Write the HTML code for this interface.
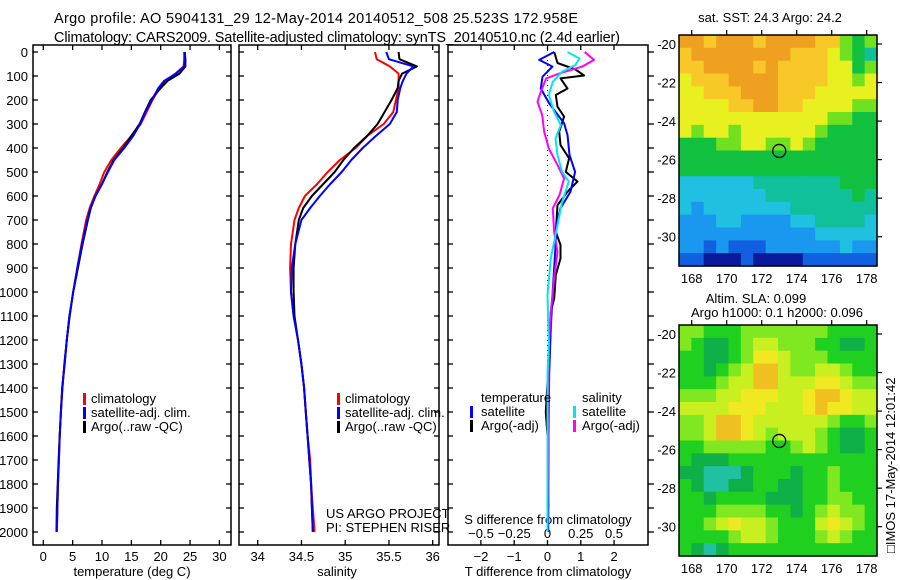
<!DOCTYPE html>
<html><head><meta charset="utf-8"><style>
html,body{margin:0;padding:0;background:#fff;}
svg{display:block;font-family:"Liberation Sans",sans-serif;}
</style></head><body>
<svg id="fig" width="900" height="580" viewBox="0 0 900 580">
<text x="54" y="23" font-size="14.5" textLength="524">Argo profile: AO 5904131_29 12-May-2014 20140512_508 25.523S 172.958E</text>
<text x="54" y="42" font-size="14.5" textLength="566">Climatology: CARS2009. Satellite-adjusted climatology: synTS_20140510.nc (2.4d earlier)</text>
<g id="p1"></g>
<g id="p2"></g>
<g id="p3"></g>
<g id="m1"></g>
<g id="m2"></g>
<text x="770" y="22" font-size="13" text-anchor="middle">sat. SST: 24.3 Argo: 24.2</text>
<text x="756" y="303" font-size="13" text-anchor="middle">Altim. SLA: 0.099</text>
<text x="777" y="317" font-size="13" text-anchor="middle">Argo h1000: 0.1 h2000: 0.096</text>
<text transform="translate(895,553) rotate(-90)" font-size="13">□IMOS 17-May-2014 12:01:42</text>
</svg>
<script>
const depths=[0,30,60,90,120,150,200,250,300,350,400,450,500,550,600,650,700,800,900,1000,1100,1200,1300,1400,1500,1600,1700,1800,1900,2000];
const tempClim=[24.0,24.0,23.9,22.5,20.8,19.8,18.6,17.6,16.6,15.0,13.2,11.6,10.4,9.6,8.7,7.9,7.3,6.5,5.8,5.1,4.45,4.0,3.6,3.25,3.0,2.8,2.65,2.5,2.4,2.3];
const tempSat=[24.1,24.1,24.0,22.6,20.6,19.6,18.5,17.4,16.5,15.3,13.8,12.1,11.0,10.0,8.9,8.0,7.5,6.6,5.8,5.1,4.45,4.0,3.6,3.25,3.0,2.8,2.65,2.5,2.4,2.3];
const tempArgo=[24.1,24.2,24.2,23.2,21.2,20.0,18.3,17.3,16.4,15.0,13.6,12.0,10.9,10.0,8.9,8.1,7.6,6.7,5.9,5.1,4.5,4.0,3.65,3.2,3.0,2.8,2.6,2.45,2.3,2.25];
const salClim=[35.34,35.36,35.51,35.61,35.61,35.61,35.58,35.55,35.44,35.25,35.12,34.94,34.80,34.68,34.54,34.47,34.42,34.38,34.37,34.38,34.41,34.46,34.50,34.53,34.55,34.57,34.60,34.61,34.63,34.65];
const salSat=[35.47,35.5,35.78,35.70,35.66,35.63,35.60,35.59,35.51,35.35,35.20,35.07,34.96,34.83,34.71,34.60,34.50,34.43,34.39,34.38,34.41,34.46,34.50,34.53,34.55,34.57,34.59,34.61,34.62,34.63];
const salArgo=[35.61,35.62,35.82,35.65,35.61,35.60,35.53,35.45,35.37,35.25,35.10,34.98,34.88,34.75,34.62,34.52,34.47,34.43,34.41,34.41,34.42,34.46,34.50,34.53,34.55,34.57,34.59,34.61,34.62,34.63];
const dTsatDepth=[0,33,61,103,152,214,297,346,429,499,582,651,721,832,1012,1151,1339,1600,2000];
const dTsat=[0.2,-0.25,0.15,-0.15,-0.2,0.05,0.5,0.6,0.66,0.83,0.69,0.39,0.27,0.23,0.15,0.1,0.05,0.03,0.02];
const dTargoDepth=[0,46,73,98,110,152,179,228,269,332,388,443,499,540,582,638,749,804,860,929,1026,1082,1300,1500,1600,1900];
const dTargo=[0.2,0.3,0.84,1.1,0.39,0.6,0.25,0.3,0.5,0.35,0.39,0.65,0.55,0.9,0.6,0.3,0.25,0.39,0.39,0.25,0.2,0.1,0.03,-0.05,0.0,0.02];
const dSsatDepth=[0,27,54,82,124,179,249,304,360,429,499,540,624,721,860,1012,1221,1339,2000];
const dSsat=[0.15,0.24,0.21,0.11,0.04,0.01,0.05,0.1,0.06,0.075,0.11,0.16,0.11,0.075,0.025,0,0.01,0,0];
const dSargoDepth=[0,33,61,89,110,165,207,263,332,402,471,527,596,651,749,832,943,1082,1221,2000];
const dSargo=[0.28,0.35,0.26,0.09,-0.01,-0.05,-0.075,-0.04,-0.025,0.01,0.075,0.125,0.09,0.04,0.05,0.075,0.05,0.025,0.01,0];
const depthTicks=[0,100,200,300,400,500,600,700,800,900,1000,1100,1200,1300,1400,1500,1600,1700,1800,1900,2000];
const tempTicks=[0,5,10,15,20,25,30];
const salTicks=[34,34.5,35,35.5,36];
const dTTicks=[-2,-1,0,1,2];
const dSTicks=[-0.5,-0.25,0,0.25,0.5];
const dSTickLabels=["\u22120.5","\u22120.25","0","0.25","0.5"];
const dTTickLabels=["\u22122","\u22121","0","1","2"];
const mapLats=[20,22,24,26,28,30];
const mapLons=[168,170,172,174,176,178];
const sstGrid=[
[9,9,8,9,9,9,8,9,9,9,9,8,8,6,5,6],
[8,9,9,9,9,9,9,9,9,8,8,8,7,6,5,4],
[8,8,9,9,9,9,8,9,8,8,8,8,7,7,5,6],
[7,8,8,8,9,9,9,9,8,8,8,8,7,7,6,7],
[7,7,8,8,8,9,9,9,8,8,8,7,7,7,7,7],
[7,7,7,7,8,8,9,9,8,8,7,7,7,7,6,6],
[7,7,7,7,7,7,7,7,7,7,7,7,6,6,5,5],
[7,6,7,7,6,7,7,7,7,7,7,6,5,5,5,5],
[5,5,5,6,6,7,7,6,6,7,6,5,5,5,5,5],
[5,5,5,5,5,5,5,5,5,5,5,5,5,5,5,5],
[5,5,5,5,5,5,5,5,5,5,5,5,5,5,5,5],
[3,3,3,3,3,3,4,4,4,4,4,4,4,5,5,5],
[3,3,3,3,3,3,3,4,4,4,4,4,4,4,5,4],
[3,2,3,3,3,3,3,3,3,4,4,4,4,4,4,4],
[2,2,2,3,3,2,2,2,2,3,3,4,4,4,4,3],
[2,2,2,2,2,2,2,2,2,2,2,3,3,3,3,3],
[2,2,1,2,1,1,1,2,2,2,2,2,2,3,2,2],
[1,1,0,0,0,1,0,0,0,0,1,1,1,1,1,1]];
const slaGrid=[
[3,3,2,2,2,3,3,3,3,3,3,3,2,2,2,2],
[3,2,1,1,2,3,4,4,3,3,3,2,2,1,1,2],
[2,2,1,1,2,3,5,5,4,3,3,3,2,2,2,2],
[2,2,1,2,3,4,6,6,4,3,3,4,4,3,2,2],
[2,2,2,3,4,4,6,6,4,4,4,5,5,4,3,3],
[3,3,3,4,4,5,5,5,4,4,5,6,6,5,4,4],
[4,4,4,4,5,5,5,4,4,4,5,6,5,5,4,4],
[3,3,4,6,6,5,4,4,4,4,4,4,3,2,2,3],
[3,3,4,6,6,5,4,3,4,4,4,3,2,1,1,2],
[2,2,3,3,3,3,3,2,2,3,4,3,2,1,1,2],
[2,1,1,1,2,2,2,2,2,2,2,2,2,2,2,2],
[1,1,0,0,0,1,2,2,2,1,2,2,3,2,2,2],
[2,1,0,0,1,1,2,2,1,1,2,2,3,2,2,2],
[2,2,1,2,2,2,2,1,1,1,2,2,3,3,2,2],
[2,2,2,3,3,3,3,2,2,1,2,3,4,3,3,2],
[2,2,3,4,5,4,4,3,2,2,2,4,5,4,3,2],
[2,2,2,2,3,4,4,3,2,2,2,3,4,3,2,2],
[2,1,0,1,2,2,2,2,2,2,2,2,2,2,2,2]];
const argoLon=173.0, argoLat=25.55;

const NS="http://www.w3.org/2000/svg";
function mk(tag,attrs,parent){const e=document.createElementNS(NS,tag);for(const k in attrs)e.setAttribute(k,attrs[k]);parent.appendChild(e);return e;}
const yD=d=>52+0.24*d;
const TOP=45,BOT=545;

function frame(g,x0,x1,name){
  const r=mk('rect',{x:x0,y:TOP,width:x1-x0,height:BOT-TOP,fill:'none',stroke:'#000','stroke-width':1.5},g);
  
  
}
function depthTicksOn(g,x0,x1,labels,outRight){
  depthTicks.forEach(d=>{
    const y=yD(d);
    const t=mk('line',{x1:x0,x2:x0+5,y1:y,y2:y,stroke:'#000','stroke-width':1.3},g);
    
    
    const t2=outRight?mk('line',{x1:x1,x2:x1+6,y1:y,y2:y,stroke:'#000','stroke-width':1.3},g):mk('line',{x1:x1-5,x2:x1,y1:y,y2:y,stroke:'#000','stroke-width':1.3},g);
    
    
    if(labels){const l=mk('text',{x:28,y:y+5,'font-size':13,'text-anchor':'end'},g);l.textContent=String(d);
      
      }
  });
}
function poly(g,xs,ds,fx,color,name,w){
  const pts=xs.map((v,i)=>fx(v).toFixed(1)+','+yD(ds[i]).toFixed(1)).join(' ');
  const p=mk('polyline',{points:pts,fill:'none',stroke:color,'stroke-width':w||2,'stroke-linejoin':'round'},g);
  
  
}
function xTicks(g,vals,labs,fx,ly,name){
  vals.forEach((v,i)=>{const x=fx(v);
    const a=mk('line',{x1:x,x2:x,y1:TOP,y2:TOP+5,stroke:'#000','stroke-width':1.3},g);
    
    
    const b=mk('line',{x1:x,x2:x,y1:BOT-5,y2:BOT,stroke:'#000','stroke-width':1.3},g);
    
    
    const l=mk('text',{x:x,y:ly,'font-size':13,'text-anchor':'middle'},g);l.textContent=labs[i];
    
    
  });
}
function txt(g,x,y,s,name,anchor,size){const t=mk('text',{x:x,y:y,'font-size':size||13,'text-anchor':anchor||'start'},g);t.textContent=s;
  
  return t;}
function legBar(g,x,y,c,name){const r=mk('rect',{x:x,y:y-11,width:3,height:12,fill:c},g);
  
  }

// Panel 1 temperature
const p1=document.getElementById('p1');
const fT=v=>43.3+v*5.87;
frame(p1,33,231,'temperature-plot-frame');
depthTicksOn(p1,33,231,true,false);
xTicks(p1,tempTicks,tempTicks.map(String),fT,561,'temperature-tick-label');
txt(p1,132,576,'temperature (deg C)','temperature-axis-title','middle');
poly(p1,tempClim,depths,fT,'#ff0000','temperature-climatology-line');
poly(p1,tempArgo,depths,fT,'#000000','temperature-argo-line');
poly(p1,tempSat,depths,fT,'#0000ff','temperature-satellite-line');
legBar(p1,83,404,'#ff0000','legend-climatology-swatch');txt(p1,91,403,'climatology','legend-climatology');
legBar(p1,83,418,'#0000ff','legend-satellite-swatch');txt(p1,91,417,'satellite-adj. clim.','legend-satellite');
legBar(p1,83,432,'#000','legend-argo-swatch');txt(p1,91,431,'Argo(..raw -QC)','legend-argo');

// Panel 2 salinity
const p2=document.getElementById('p2');
const fS=v=>257.7+(v-34)*87.5;
frame(p2,239,439,'salinity-plot-frame');
depthTicksOn(p2,239,439,false,false);
xTicks(p2,salTicks,salTicks.map(String),fS,561,'salinity-tick-label');
txt(p2,337,576,'salinity','salinity-axis-title','middle');
poly(p2,salClim,depths,fS,'#ff0000','salinity-climatology-line');
poly(p2,salArgo,depths,fS,'#000000','salinity-argo-line');
poly(p2,salSat,depths,fS,'#0000ff','salinity-satellite-line');
legBar(p2,337,404,'#ff0000','legend-climatology-swatch');txt(p2,345,403,'climatology','legend-climatology');
legBar(p2,337,418,'#0000ff','legend-satellite-swatch');txt(p2,345,417,'satellite-adj. clim.','legend-satellite');
legBar(p2,337,432,'#000','legend-argo-swatch');txt(p2,345,431,'Argo(..raw -QC)','legend-argo');
txt(p2,326,518,'US ARGO PROJECT','project-label');
txt(p2,326,532,'PI: STEPHEN RISER','pi-label');

// Panel 3 differences
const p3=document.getElementById('p3');
const fdT=v=>547.5+v*33.3;
const fdS=v=>547.5+v*133;
frame(p3,448,648,'difference-plot-frame');
depthTicksOn(p3,448,648,false,true);
dTTicks.forEach((v,i)=>{const x=fdT(v);
  const a=mk('line',{x1:x,x2:x,y1:BOT-5,y2:BOT,stroke:'#000','stroke-width':1.3},p3);
  
  
  txt(p3,x,561,dTTickLabels[i],'t-diff-tick-label','middle');});
dSTicks.forEach((v,i)=>{const x=fdS(v);
  const a=mk('line',{x1:x,x2:x,y1:TOP,y2:TOP+5,stroke:'#000','stroke-width':1.3},p3);
  
  
  txt(p3,x,538,dSTickLabels[i],'s-diff-tick-label','middle');});
txt(p3,548,524,'S difference from climatology','s-diff-axis-title','middle');
txt(p3,548,576,'T difference from climatology','t-diff-axis-title','middle');
const zl=mk('line',{x1:547.5,x2:547.5,y1:TOP+5,y2:BOT-40,stroke:'#000','stroke-width':1,'stroke-dasharray':'1,4'},p3);


poly(p3,dTargo,dTargoDepth,fdT,'#000','t-diff-argo-line');
poly(p3,dTsat,dTsatDepth,fdT,'#0000ff','t-diff-satellite-line');
poly(p3,dSargo,dSargoDepth,fdS,'#ff00ff','s-diff-argo-line');
poly(p3,dSsat,dSsatDepth,fdS,'#00e8e8','s-diff-satellite-line');
txt(p3,481,402,'temperature','legend-temperature-header');
txt(p3,582,402,'salinity','legend-salinity-header');
legBar(p3,470,417,'#0000ff','legend-t-satellite-swatch');txt(p3,481,416,'satellite','legend-t-satellite');
legBar(p3,470,431,'#000','legend-t-argo-swatch');txt(p3,481,430,'Argo(-adj)','legend-t-argo');
legBar(p3,573,417,'#00e8e8','legend-s-satellite-swatch');txt(p3,582,416,'satellite','legend-s-satellite');
legBar(p3,573,431,'#ff00ff','legend-s-argo-swatch');txt(p3,582,430,'Argo(-adj)','legend-s-argo');

// Maps
const sstColors=['#0a1a9a','#1060e0','#1a98f0','#20c0e0','#10c09a','#12c040','#70e020','#e8f020','#f8c828','#f0a020'];
const slaColors=['#20c0a0','#10b048','#20d020','#80e820','#c8f020','#f0e820','#f0c020'];
function drawMap(g,grid,colors,x0,y0,lat20y,name){
  const W=198,H=231,cols=grid[0].length,rows=grid.length,cw=W/cols,ch=H/rows;
  grid.forEach((row,r)=>row.forEach((v,c)=>{
    const cell=mk('rect',{x:(x0+c*cw).toFixed(2),y:(y0+r*ch).toFixed(2),width:(cw+0.6).toFixed(2),height:(ch+0.6).toFixed(2),fill:colors[v]},g);
    
    
  }));
  const fr=mk('rect',{x:x0,y:y0,width:W,height:H,fill:'none',stroke:'#000','stroke-width':1.5},g);
  
  
  const fx=lon=>691.7+(lon-168)*17.5, fy=lat=>lat20y+(lat-20)*19.27;
  mapLons.forEach(l=>{const x=fx(l);
    const a=mk('line',{x1:x,x2:x,y1:y0-5,y2:y0,stroke:'#000','stroke-width':1.2},g);
    
    
    txt(g,x,y0+H+17,String(l),'lon-tick-label','middle');});
  mapLats.forEach(l=>{const y=fy(l);
    const a=mk('line',{x1:x0+W,x2:x0+W+5,y1:y,y2:y,stroke:'#000','stroke-width':1.2},g);
    
    
    txt(g,676,y+5,'-'+l,'lat-tick-label','end');});
  const c=mk('circle',{cx:fx(argoLon),cy:fy(argoLat),r:6.5,fill:'none',stroke:'#000','stroke-width':1.3},g);
  
  
}
drawMap(document.getElementById('m1'),sstGrid,sstColors,679,35,44,'sst-map');
drawMap(document.getElementById('m2'),slaGrid,slaColors,679,325,334,'sla-map');
</script>
</body></html>
